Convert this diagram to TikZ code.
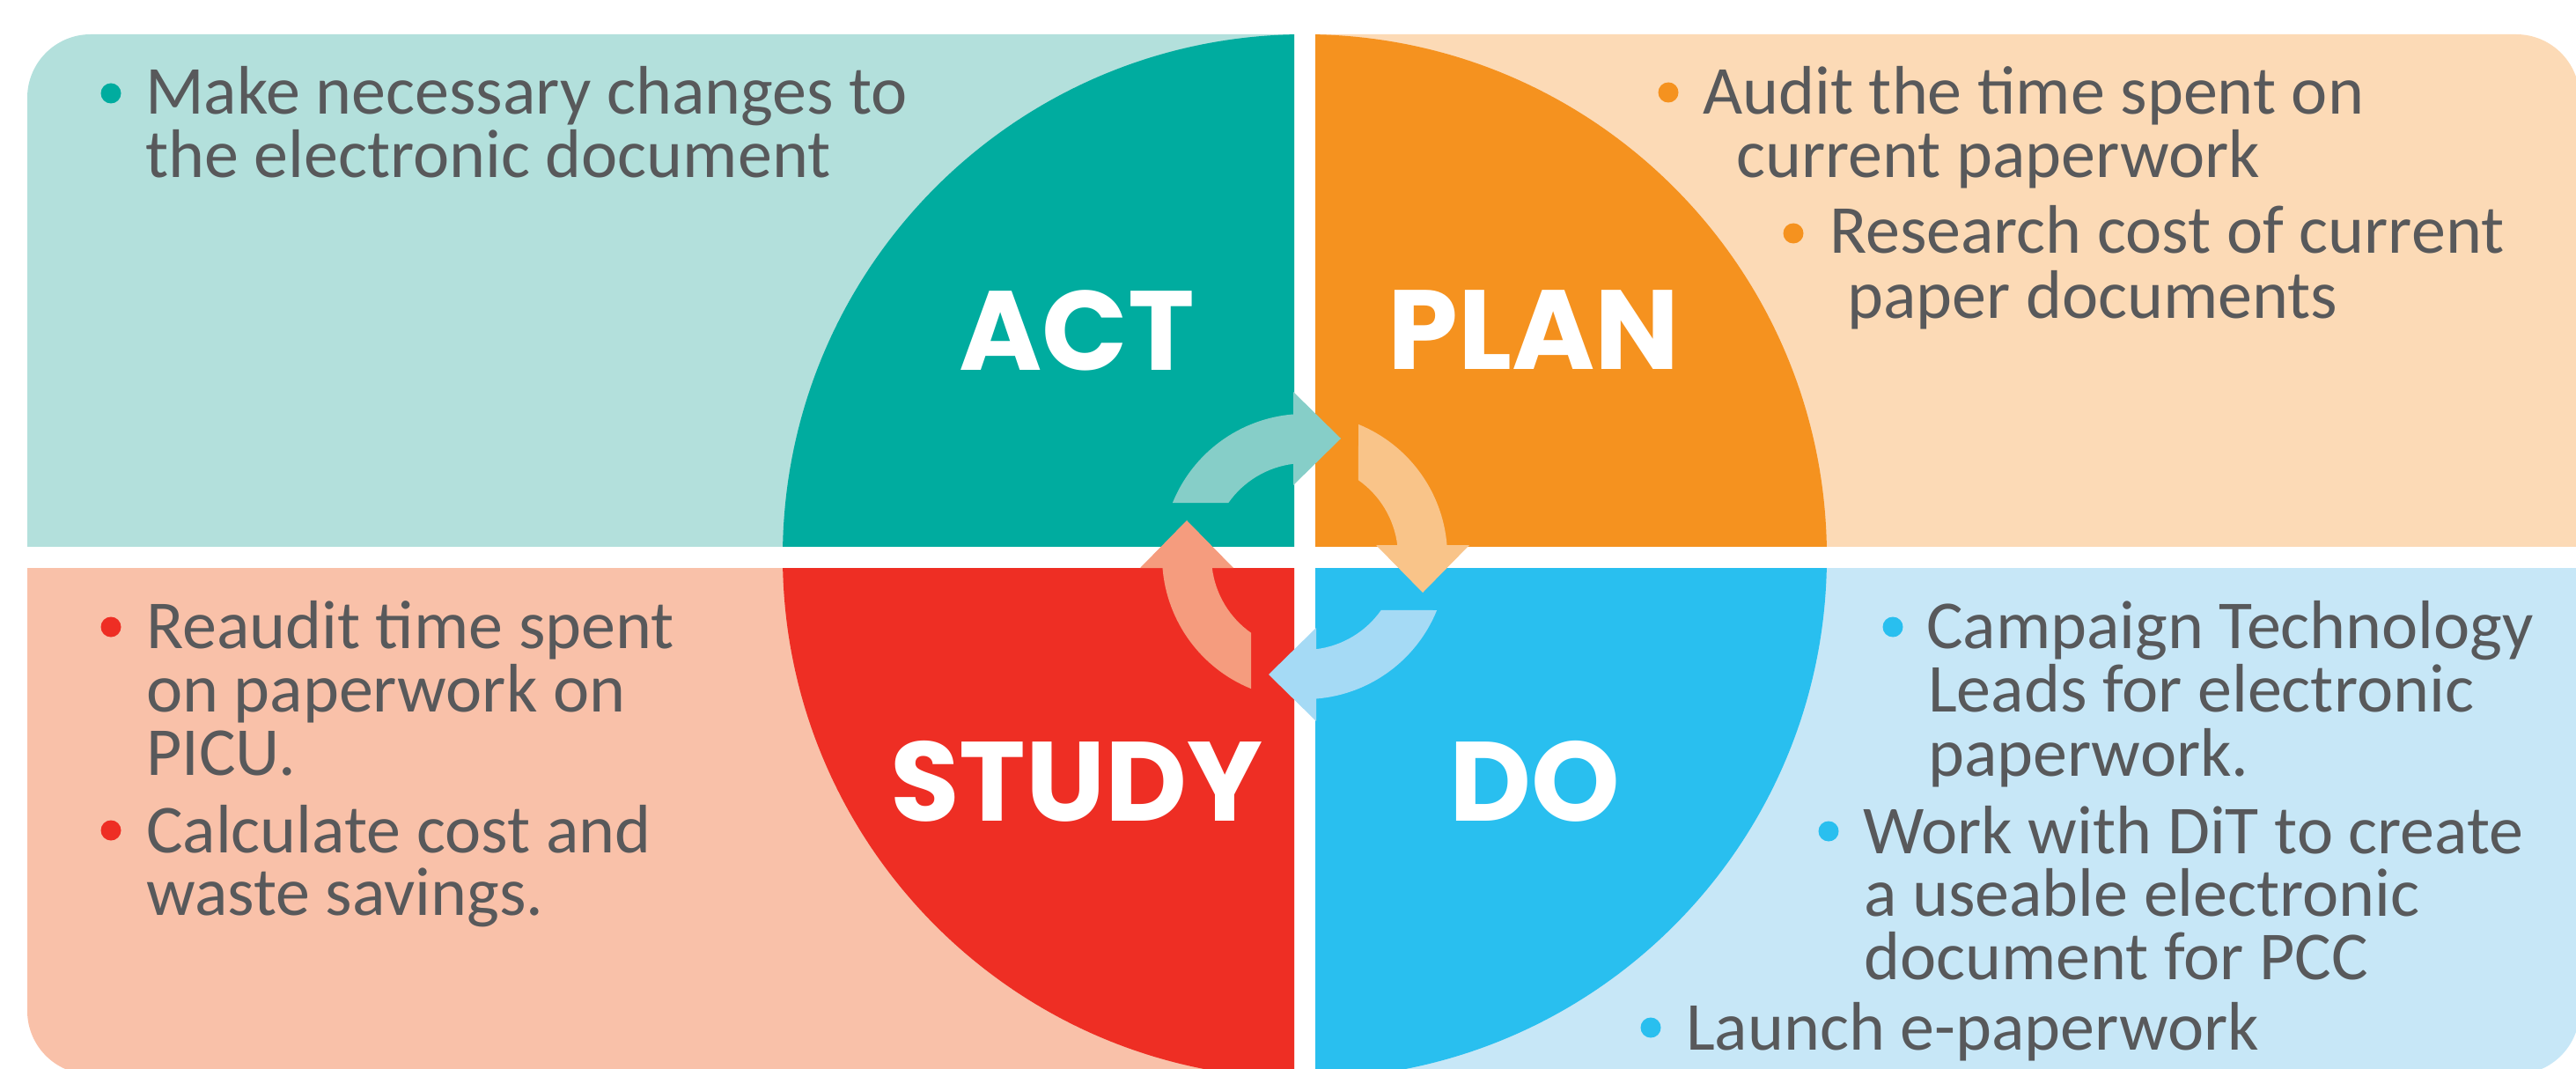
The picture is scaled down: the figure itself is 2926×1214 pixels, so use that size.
\documentclass[tikz,border=0pt]{standalone}
\usepackage{fontspec}
\setmainfont{Carlito}
\newfontfamily\labelfont{Poppins}
\definecolor{txt}{HTML}{58595B}
\definecolor{actD}{HTML}{00AC9F}
\definecolor{actL}{HTML}{B3E0DC}
\definecolor{actA}{HTML}{86CEC8}
\definecolor{planD}{HTML}{F5921F}
\definecolor{planL}{HTML}{FCDAB6}
\definecolor{planA}{HTML}{F9C489}
\definecolor{studyD}{HTML}{EE2E24}
\definecolor{studyL}{HTML}{F9C1A9}
\definecolor{studyA}{HTML}{F59C7E}
\definecolor{doD}{HTML}{29BFEF}
\definecolor{doL}{HTML}{C7E7F7}
\definecolor{doA}{HTML}{A5DAF5}
\tikzset{
  pdsarrow/.pic={
    \fill[#1, yscale=-1] (-150.1,61) arc[start angle=157.9, end angle=94.6, radius=162]
      -- (-13,187) -- (41,134) -- (-13,81) -- (-13,105.2)
      arc[start angle=97.05, end angle=144.9, radius=106] -- cycle;
  }
}
\begin{document}
\begin{tikzpicture}[x=1pt,y=-1pt,
  body/.style={anchor=base west, inner sep=0pt, text=txt, font=\fontsize{78}{72}\selectfont},
  dot/.style={circle, inner sep=0pt, minimum size=23pt},
  big/.style={text=white, inner sep=0pt, font=\labelfont\bfseries\fontsize{128}{128}\selectfont}]
\useasboundingbox (0,0) rectangle (2926,1214);
\fill[white] (0,0) rectangle (2926,1214);
% quadrant panels and circle parts
\begin{scope}
  \clip (0,0) rectangle (1470,620);
  \fill[actL, rounded corners=72pt] (31,39) rectangle (2930,1220);
  \fill[actD] (1482,632) circle[radius=593];
\end{scope}
\begin{scope}
  \clip (1494,0) rectangle (2926,620);
  \fill[planL, rounded corners=72pt] (31,39) rectangle (2930,1220);
  \fill[planD] (1482,632) circle[radius=593];
\end{scope}
\begin{scope}
  \clip (0,645) rectangle (1470,1214);
  \fill[studyL, rounded corners=72pt] (31,39) rectangle (2930,1220);
  \fill[studyD] (1482,632) circle[radius=593];
\end{scope}
\begin{scope}
  \clip (1494,645) rectangle (2926,1214);
  \fill[doL, rounded corners=72pt] (31,39) rectangle (2930,1220);
  \fill[doD] (1482,632) circle[radius=593];
\end{scope}
% cycle arrows
\pic (arrowAct) at (1482,632) {pdsarrow=actA};
\pic[rotate=-90] (arrowPlan) at (1482,632) {pdsarrow=planA};
\pic[rotate=-180] (arrowDo) at (1482,632) {pdsarrow=doA};
\pic[rotate=-270] (arrowStudy) at (1482,632) {pdsarrow=studyA};
% big labels
\node[big] (act) at (1223,375) {ACT};
\node[big] (plan) at (1742,375) {PLAN};
\node[big] (study) at (1223,887) {STUDY};
\node[big] (do) at (1743,887) {DO};
% top-left text
\node[dot, fill=actD] (d1) at (126,106) {};
\node[body] (t1a) at (165,130) {Make necessary changes to};
\node[body] (t1b) at (165,202) {the electronic document};
% top-right text
\node[dot, fill=planD] (d2) at (1895,105) {};
\node[body] (t2a) at (1934,130) {Audit the time spent on};
\node[body] (t2b) at (1972,202) {current paperwork};
\node[dot, fill=planD] (d3) at (2037,265) {};
\node[body] (t3a) at (2078,288) {Research cost of current};
\node[body] (t3b) at (2098,362) {paper documents};
% bottom-left text
\node[dot, fill=studyD] (d4) at (126,712) {};
\node[body] (t4a) at (166,736) {Reaudit time spent};
\node[body] (t4b) at (166,808) {on paperwork on};
\node[body] (t4c) at (166,880) {PICU.};
\node[dot, fill=studyD] (d5) at (126,943) {};
\node[body] (t5a) at (166,968) {Calculate cost and};
\node[body] (t5b) at (166,1039) {waste savings.};
% bottom-right text
\node[dot, fill=doD] (d6) at (2150,712) {};
\node[body] (t6a) at (2188,736) {Campaign Technology};
\node[body] (t6b) at (2190,808) {Leads for electronic};
\node[body] (t6c) at (2190,881) {paperwork.};
\node[dot, fill=doD] (d7) at (2077,944) {};
\node[body] (t7a) at (2116,969) {Work with DiT to create};
\node[body] (t7b) at (2117,1040) {a useable electronic};
\node[body] (t7c) at (2117,1112) {document for PCC};
\node[dot, fill=doD] (d8) at (1875,1167) {};
\node[body] (t8a) at (1915,1192) {Launch e-paperwork};
\end{tikzpicture}
\end{document}
